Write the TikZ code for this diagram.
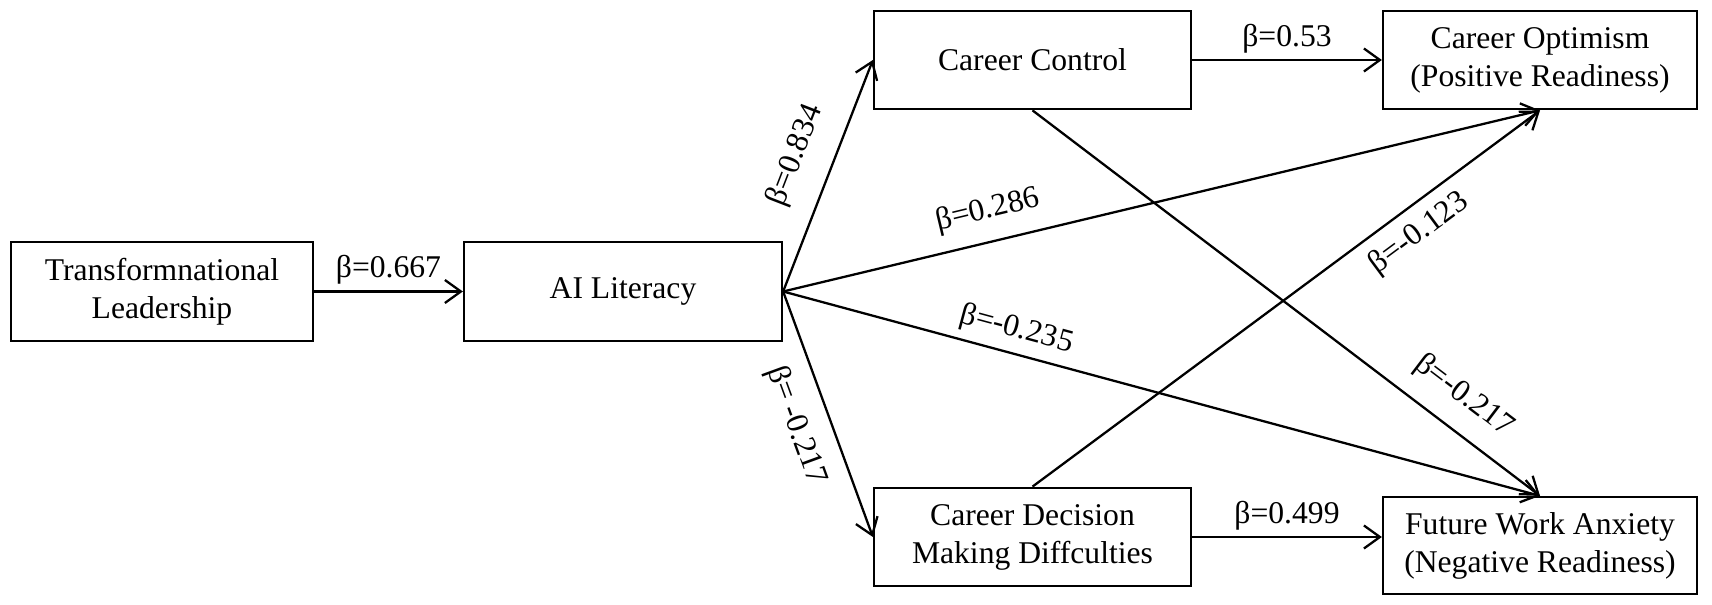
\documentclass[tikz,border=0pt]{standalone}
\usepackage{fontspec}
\setmainfont{Liberation Serif}
\usetikzlibrary{arrows.meta}
\begin{document}
\begin{tikzpicture}[
    font=\fontsize{18}{21.6}\selectfont,
    box/.style={draw, line width=1.3pt, align=center, minimum height=1.97cm},
    link/.style={line width=1.3pt, -{Straight Barb[length=3.2mm,width=4.6mm,line width=1.3pt]}},
    coef/.style={}]
  \useasboundingbox (0,0) rectangle (34.24,12.1);
  % left boxes
  \node[box, minimum width=6.04cm] (lead) at (3.24,6.27) {Transformnational\\Leadership};
  \node[box, minimum width=6.36cm] (ail) at (12.46,6.27) {AI Literacy};
  % mediators
  \node[box, minimum width=6.34cm] (ctrl) at (20.65,10.9) {Career Control};
  \node[box, minimum width=6.34cm] (cdmd) at (20.65,1.36) {Career Decision\\Making Diffculties};
  % outcomes
  \node[box, minimum width=6.28cm] (opt) at (30.8,10.9) {Career Optimism\\(Positive Readiness)};
  \node[box, minimum width=6.28cm, minimum height=1.94cm] (anx) at (30.8,1.19) {Future Work Anxiety\\(Negative Readiness)};
  % straight paths
  \draw[link] (lead) -- node[coef, midway, above] {β=0.667} (ail);
  \draw[link] (ctrl) -- node[coef, midway, above] {β=0.53} (opt);
  \draw[link] (cdmd.east) -- node[coef, midway, above] {β=0.499} (cdmd.east -| anx.west);
  % paths out of AI literacy
  \draw[link] (ail.east) -- node[coef, pos=0.53, sloped, above=0.32cm] {β=0.834} (ctrl.west);
  \draw[link] (ail.east) -- node[coef, pos=0.5, sloped, below=0.25cm] {β= -0.217} (cdmd.west);
  \draw[link] (ail.east) -- node[coef, pos=0.28, sloped, above=0.19cm] {β=0.286} (opt.south);
  \draw[link] (ail.east) -- node[coef, pos=0.3, sloped, above=0.05cm] {β=-0.235} (anx.north);
  % crossing paths
  \draw[link] (cdmd.north) -- node[coef, pos=0.73, sloped, below=0.11cm] {β=-0.123} (opt.south);
  \draw[link] (ctrl.south) -- node[coef, pos=0.81, sloped, above=0.24cm] {β=-0.217} (anx.north);
\end{tikzpicture}
\end{document}
